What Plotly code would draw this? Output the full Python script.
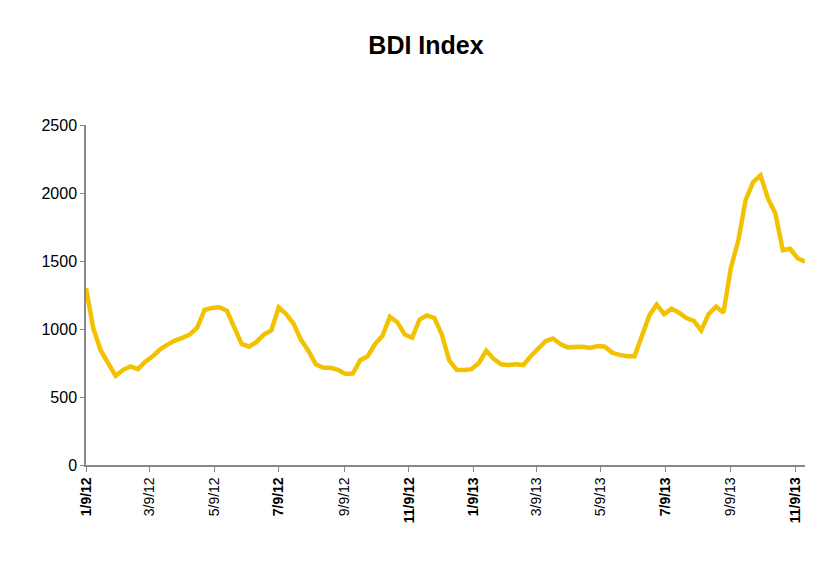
import plotly.graph_objects as go
import pandas as pd

start_date = "2012-01-09"
bdi_values = [
    1300, 1000, 840, 740, 655, 700, 725, 705, 760, 800,
    850, 885, 915, 935, 960, 1010, 1140, 1155, 1160, 1135,
    1010, 890, 870, 905, 960, 990, 1160, 1110, 1040, 920,
    840, 740, 715, 715, 700, 670, 672, 770, 800, 890,
    950, 1090, 1050, 960, 935, 1070, 1100, 1080, 960, 770,
    700, 698, 705, 750, 840, 780, 740, 735, 740, 735,
    800, 860, 910, 930, 890, 865, 870, 870, 860, 875,
    870, 825, 810, 800, 800, 950, 1100, 1180, 1110, 1150,
    1120, 1080, 1060, 990, 1110, 1165, 1120, 1450, 1650, 1950,
    2080, 2130, 1960, 1850, 1580, 1590, 1520, 1495,
]
dates = pd.date_range(start_date, periods=len(bdi_values), freq="7D")

tick_dates = ["2012-01-09", "2012-03-09", "2012-05-09", "2012-07-09", "2012-09-09",
              "2012-11-09", "2013-01-09", "2013-03-09", "2013-05-09", "2013-07-09",
              "2013-09-09", "2013-11-09"]
tick_labels = ["1/9/12", "3/9/12", "5/9/12", "7/9/12", "9/9/12", "11/9/12",
               "1/9/13", "3/9/13", "5/9/13", "7/9/13", "9/9/13", "11/9/13"]
y_ticks = [0, 500, 1000, 1500, 2000, 2500]

bold_labels = {"1/9/12", "7/9/12", "11/9/12", "1/9/13", "7/9/13", "11/9/13"}
tick_text = [f"<b>{t}</b>" if t in bold_labels else t for t in tick_labels]

fig = go.Figure()
fig.add_trace(go.Scatter(x=dates, y=bdi_values, mode="lines",
                         line=dict(color="#F2C200", width=4.5), showlegend=False))

fig.update_layout(
    width=834, height=571,
    paper_bgcolor="white", plot_bgcolor="white",
    margin=dict(l=78, r=37, t=117, b=114),
    title=dict(text="<b>BDI Index</b>", x=418 / 834, xanchor="center", y=1 - 37 / 571, yanchor="middle",
               font=dict(family="Liberation Sans, Arial", size=25, color="black")),
    font=dict(family="Liberation Sans, Arial", color="black"),
)
fig.update_xaxes(
    range=["2012-01-09", "2013-11-18"], automargin=False,
    tickvals=tick_dates, ticktext=tick_text, tickangle=-90,
    tickfont=dict(size=14, color="black"),
    showgrid=False, zeroline=False,
    showline=True, linecolor="#888888", linewidth=1.5,
    ticks="outside", ticklen=5, tickcolor="#888888",
)
fig.update_yaxes(
    range=[0, 2500], tickvals=y_ticks, automargin=False,
    tickfont=dict(size=16, color="black"),
    showgrid=False, zeroline=False,
    showline=True, linecolor="#888888", linewidth=1.5,
    ticks="outside", ticklen=4, tickcolor="#888888",
)

fig.write_html("out.html")
